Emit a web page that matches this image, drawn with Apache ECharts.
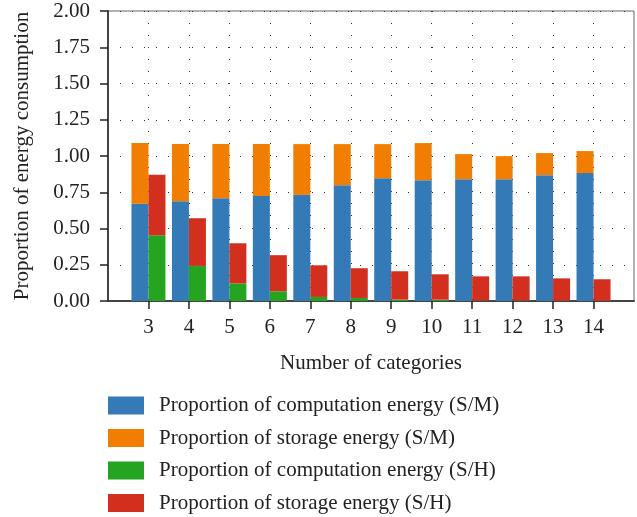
<!DOCTYPE html>
<html>
<head>
<meta charset="utf-8">
<script src="https://cdn.jsdelivr.net/npm/echarts@6/dist/echarts.min.js"></script>
<style>html,body{margin:0;padding:0;background:#fff}#c{width:637px;height:517px}</style>
</head>
<body>
<div id="c"></div>
<script>
var categories = [3, 4, 5, 6, 7, 8, 9, 10, 11, 12, 13, 14];
var compSM = [0.670, 0.688, 0.709, 0.725, 0.732, 0.799, 0.847, 0.833, 0.840, 0.840, 0.868, 0.882];
var storSM = [0.419, 0.394, 0.373, 0.357, 0.350, 0.283, 0.235, 0.256, 0.173, 0.159, 0.152, 0.152];
var compSH = [0.454, 0.242, 0.122, 0.067, 0.028, 0.021, 0.010, 0.009, 0.003, 0.003, 0.001, 0.001];
var storSH = [0.416, 0.329, 0.276, 0.249, 0.218, 0.205, 0.195, 0.175, 0.167, 0.167, 0.155, 0.149];
var seriesNames = [
  'Proportion of computation energy (S/M)',
  'Proportion of storage energy (S/M)',
  'Proportion of computation energy (S/H)',
  'Proportion of storage energy (S/H)'
];
var colors = ['#337ab7', '#f17e00', '#25a421', '#d22f1f'];

// axis runs from one category before the first to one after the last
var axisCats = [String(categories[0] - 1)].concat(categories.map(String)).concat([String(categories[categories.length - 1] + 1)]);
function pad(a) { return [null].concat(a).concat([null]); }
var lastIdx = axisCats.length - 1;
function inner(i) { return i > 0 && i < lastIdx; }

var font = 'Liberation Serif';
var fs = 21;
var chart = echarts.init(document.getElementById('c'), null, {renderer: 'canvas'});
var dotted = {color: '#333', width: 1, type: [1, 11]};
chart.setOption({
  animation: false,
  color: colors,
  textStyle: {fontFamily: font},
  grid: {left: 108, right: 3, top: 11, bottom: 216, show: true, borderColor: '#666', borderWidth: 1, containLabel: false, outerBoundsMode: 'none'},
  xAxis: {
    type: 'category',
    data: axisCats,
    boundaryGap: false,
    name: 'Number of categories',
    nameLocation: 'middle',
    nameGap: 52,
    nameTextStyle: {fontFamily: font, fontSize: fs, color: '#222'},
    axisLine: {lineStyle: {color: '#444', width: 2}},
    axisTick: {show: true, length: 8, interval: function (i) { return inner(i); }, lineStyle: {color: '#222', width: 1.5}},
    axisLabel: {interval: function (i) { return inner(i); }, margin: 16, fontFamily: font, fontSize: fs, color: '#222'},
    splitLine: {show: true, interval: function (i) { return inner(i); }, lineStyle: dotted}
  },
  yAxis: {
    type: 'value',
    min: 0, max: 2, interval: 0.25,
    name: 'Proportion of energy consumption',
    nameLocation: 'middle',
    nameGap: 75,
    nameTextStyle: {fontFamily: font, fontSize: fs, color: '#222'},
    axisLine: {show: true, lineStyle: {color: '#444', width: 2}},
    axisTick: {show: true, length: 8, lineStyle: {color: '#222', width: 1.5}},
    axisLabel: {margin: 18, fontFamily: font, fontSize: fs, color: '#222', formatter: function (v) { return v.toFixed(2); }},
    splitLine: {show: true, lineStyle: dotted}
  },
  legend: {
    orient: 'vertical',
    left: 108,
    top: 395,
    height: 130,
    padding: 0,
    itemWidth: 36,
    itemHeight: 18,
    itemGap: 11.5,
    icon: 'rect',
    textStyle: {fontFamily: font, fontSize: fs, color: '#222', lineHeight: 19, padding: [0, 0, 0, 10]},
    data: seriesNames
  },
  series: [
    {name: seriesNames[0], type: 'bar', stack: 'sm', barWidth: 17, barGap: '0%', data: pad(compSM)},
    {name: seriesNames[1], type: 'bar', stack: 'sm', barWidth: 17, barGap: '0%', data: pad(storSM)},
    {name: seriesNames[2], type: 'bar', stack: 'sh', barWidth: 17, barGap: '0%', data: pad(compSH)},
    {name: seriesNames[3], type: 'bar', stack: 'sh', barWidth: 17, barGap: '0%', data: pad(storSH)}
  ]
});
</script>
</body>
</html>
